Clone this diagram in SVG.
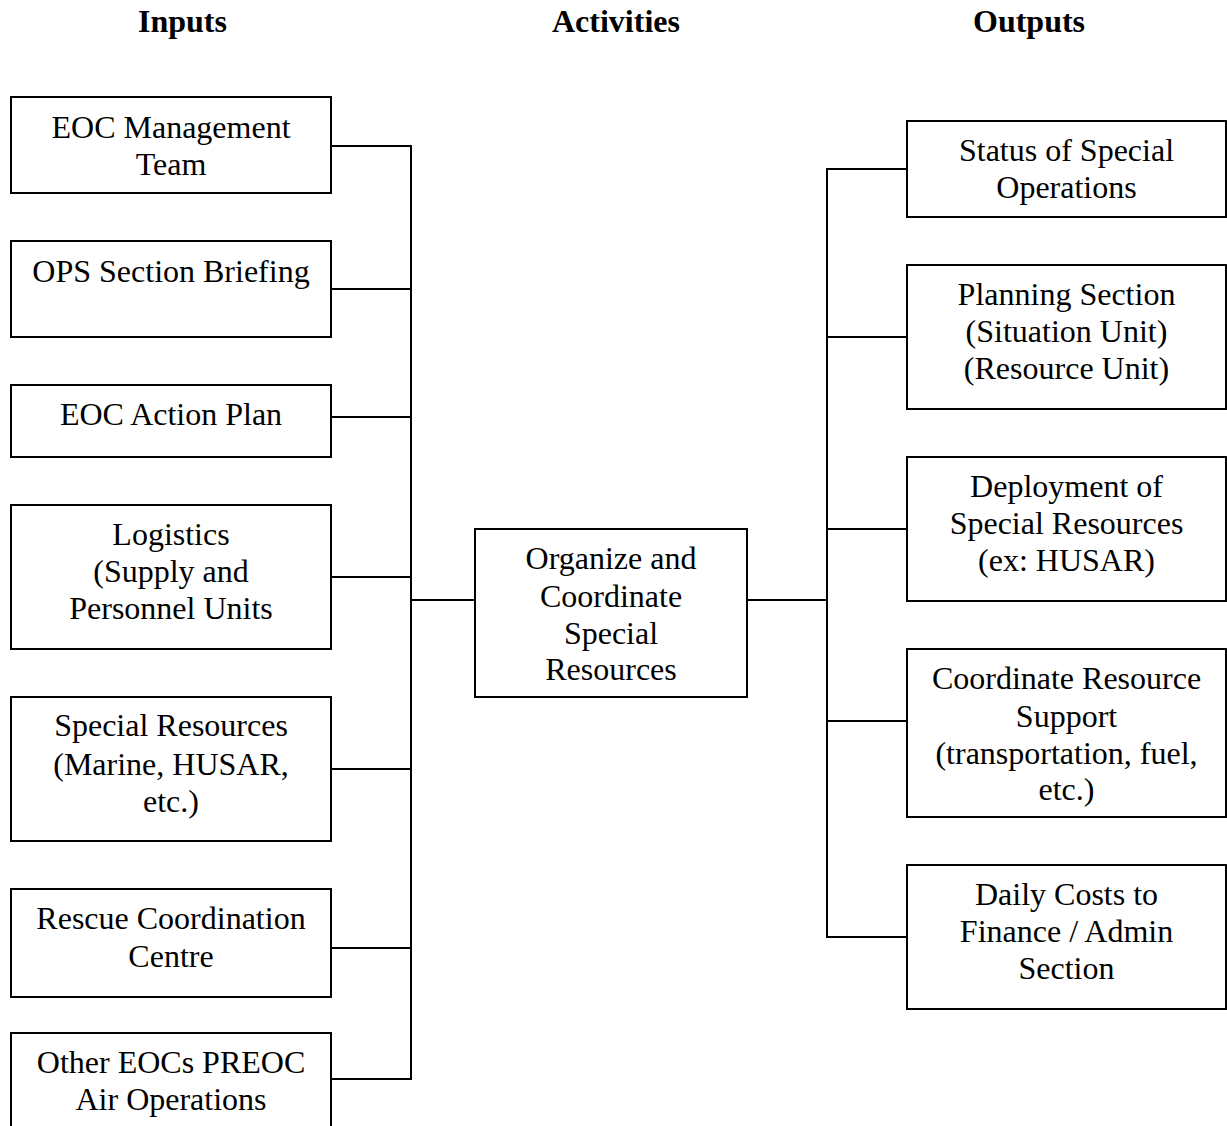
<svg xmlns="http://www.w3.org/2000/svg" width="1227" height="1126" viewBox="0 0 1227 1126">
  <style>
    .box { fill: #fff; stroke: #000; stroke-width: 2; }
    .lbl { font-family: "Liberation Serif", "Times New Roman", serif; font-size: 32px; fill: #000; text-anchor: middle; }
    .hdr { font-family: "Liberation Serif", "Times New Roman", serif; font-size: 32px; font-weight: bold; fill: #000; }
    .wire { fill: none; stroke: #000; stroke-width: 2; }
  </style>
  <rect width="1227" height="1126" fill="#fff"/>

  <!-- column headings -->
  <text class="hdr" x="138" y="32">Inputs</text>
  <text class="hdr" x="552" y="32">Activities</text>
  <text class="hdr" x="973" y="32">Outputs</text>

  <!-- connectors -->
  <g id="connectors">
    <path class="wire" d="M331 146 H411 V1079 H331"/>
    <path class="wire" d="M331 289 H411 M331 417 H411 M331 577 H411 M331 769 H411 M331 948 H411"/>
    <path class="wire" d="M411 600 H475"/>
    <path class="wire" d="M747 600 H827"/>
    <path class="wire" d="M907 169 H827 V937 H907"/>
    <path class="wire" d="M827 337 H907 M827 529 H907 M827 721 H907"/>
  </g>

  <!-- inputs -->
  <g id="in-eoc-mgmt">
    <rect class="box" x="11" y="97" width="320" height="96"/>
    <text class="lbl" x="171" y="138">EOC Management</text>
    <text class="lbl" x="171" y="175">Team</text>
  </g>
  <g id="in-ops-briefing">
    <rect class="box" x="11" y="241" width="320" height="96"/>
    <text class="lbl" x="171" y="282">OPS Section Briefing</text>
  </g>
  <g id="in-action-plan">
    <rect class="box" x="11" y="385" width="320" height="72"/>
    <text class="lbl" x="171" y="425">EOC Action Plan</text>
  </g>
  <g id="in-logistics">
    <rect class="box" x="11" y="505" width="320" height="144"/>
    <text class="lbl" x="171" y="545">Logistics</text>
    <text class="lbl" x="171" y="582">(Supply and</text>
    <text class="lbl" x="171" y="619">Personnel Units</text>
  </g>
  <g id="in-special-resources">
    <rect class="box" x="11" y="697" width="320" height="144"/>
    <text class="lbl" x="171" y="736">Special Resources</text>
    <text class="lbl" x="171" y="775">(Marine, HUSAR,</text>
    <text class="lbl" x="171" y="812">etc.)</text>
  </g>
  <g id="in-rescue-centre">
    <rect class="box" x="11" y="889" width="320" height="108"/>
    <text class="lbl" x="171" y="929">Rescue Coordination</text>
    <text class="lbl" x="171" y="967">Centre</text>
  </g>
  <g id="in-other-eocs">
    <rect class="box" x="11" y="1033" width="320" height="108"/>
    <text class="lbl" x="171" y="1073">Other EOCs PREOC</text>
    <text class="lbl" x="171" y="1110">Air Operations</text>
  </g>

  <!-- activity -->
  <g id="act-organize">
    <rect class="box" x="475" y="529" width="272" height="168"/>
    <text class="lbl" x="611" y="569">Organize and</text>
    <text class="lbl" x="611" y="607">Coordinate</text>
    <text class="lbl" x="611" y="644">Special</text>
    <text class="lbl" x="611" y="680">Resources</text>
  </g>

  <!-- outputs -->
  <g id="out-status">
    <rect class="box" x="907" y="121" width="319" height="96"/>
    <text class="lbl" x="1066.5" y="161">Status of Special</text>
    <text class="lbl" x="1066.5" y="198">Operations</text>
  </g>
  <g id="out-planning">
    <rect class="box" x="907" y="265" width="319" height="144"/>
    <text class="lbl" x="1066.5" y="305">Planning Section</text>
    <text class="lbl" x="1066.5" y="342">(Situation Unit)</text>
    <text class="lbl" x="1066.5" y="379">(Resource Unit)</text>
  </g>
  <g id="out-deployment">
    <rect class="box" x="907" y="457" width="319" height="144"/>
    <text class="lbl" x="1066.5" y="497">Deployment of</text>
    <text class="lbl" x="1066.5" y="534">Special Resources</text>
    <text class="lbl" x="1066.5" y="571">(ex: HUSAR)</text>
  </g>
  <g id="out-support">
    <rect class="box" x="907" y="649" width="319" height="168"/>
    <text class="lbl" x="1066.5" y="689">Coordinate Resource</text>
    <text class="lbl" x="1066.5" y="727">Support</text>
    <text class="lbl" x="1066.5" y="764">(transportation, fuel,</text>
    <text class="lbl" x="1066.5" y="800">etc.)</text>
  </g>
  <g id="out-daily-costs">
    <rect class="box" x="907" y="865" width="319" height="144"/>
    <text class="lbl" x="1066.5" y="905">Daily Costs to</text>
    <text class="lbl" x="1066.5" y="942">Finance / Admin</text>
    <text class="lbl" x="1066.5" y="979">Section</text>
  </g>
</svg>
